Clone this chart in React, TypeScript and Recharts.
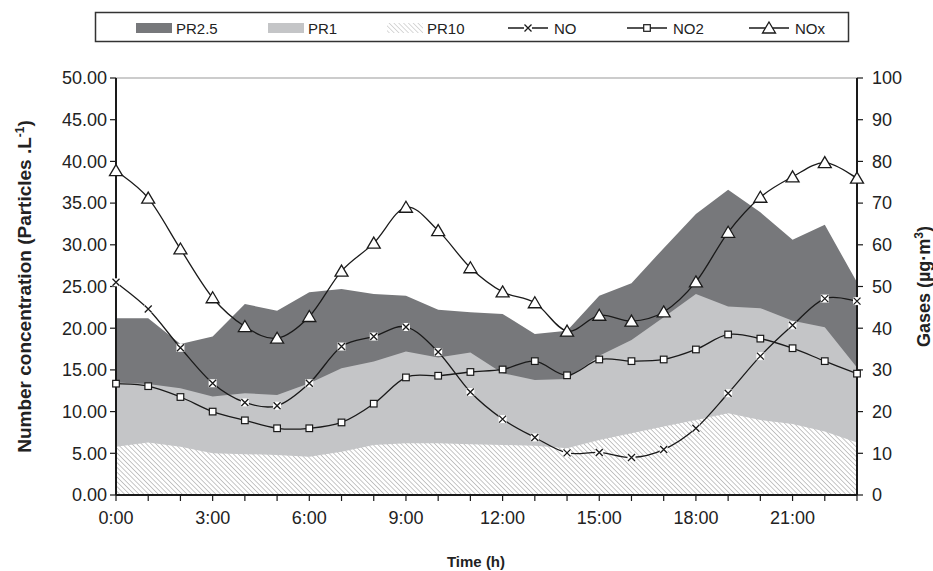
import { ComposedChart, Area, Line, XAxis, YAxis, ReferenceLine } from 'recharts';

// hourly profile: particle number concentrations (left axis) and gases (right axis)
const hours = ['0:00', '1:00', '2:00', '3:00', '4:00', '5:00', '6:00', '7:00', '8:00', '9:00', '10:00', '11:00',
  '12:00', '13:00', '14:00', '15:00', '16:00', '17:00', '18:00', '19:00', '20:00', '21:00', '22:00', '23:00'];

const pr25 = [21.2, 21.2, 18.1, 19.0, 22.9, 22.1, 24.3, 24.7, 24.1, 23.9, 22.2, 21.9, 21.7, 19.3, 19.7, 23.9, 25.4, 29.6, 33.7, 36.6, 33.9, 30.6, 32.4, 25.5];
const pr1 = [13.5, 13.3, 12.8, 11.8, 12.2, 12.0, 13.4, 15.2, 16.0, 17.2, 16.5, 17.1, 14.6, 13.8, 13.9, 16.7, 18.6, 21.3, 24.1, 22.6, 22.4, 20.9, 20.1, 15.3];
const pr10 = [5.8, 6.3, 5.8, 5.0, 4.9, 4.8, 4.6, 5.2, 6.0, 6.2, 6.2, 6.1, 6.0, 5.9, 5.6, 6.6, 7.4, 8.2, 9.0, 9.8, 9.0, 8.5, 7.6, 6.3];

const no = [51.0, 44.6, 35.3, 26.8, 22.2, 21.4, 26.8, 35.6, 38.0, 40.3, 34.3, 24.7, 18.2, 13.8, 10.1, 10.2, 9.0, 10.9, 16.0, 24.4, 33.3, 40.7, 47.1, 46.5];
const no2 = [26.7, 26.1, 23.5, 20.0, 17.9, 16.0, 16.0, 17.4, 21.9, 28.2, 28.6, 29.5, 30.1, 32.1, 28.7, 32.5, 32.1, 32.5, 34.9, 38.5, 37.5, 35.2, 32.1, 29.1];
const nox = [77.8, 71.2, 59.0, 47.3, 40.4, 37.6, 42.8, 53.7, 60.4, 69.0, 63.4, 54.5, 48.7, 46.1, 39.3, 43.1, 41.7, 43.9, 51.1, 63.0, 71.4, 76.3, 79.7, 76.0];

const pmTicks = [0, 5, 10, 15, 20, 25, 30, 35, 40, 45, 50];
const gasTicks = [0, 10, 20, 30, 40, 50, 60, 70, 80, 90, 100];

const rows = hours.map((time, i) => ({
  time, pr25: pr25[i], pr1: pr1[i], pr10: pr10[i], no: no[i], no2: no2[i], nox: nox[i],
}));

const FONT = '"Liberation Sans", Arial, sans-serif';
const INK = '#1a1a1a';
const DARK = '#77787b';
const LIGHT = '#c4c5c7';

// Excel-like smoothed line (uniform Catmull-Rom through the points)
const smooth = (context: any) => {
  let pts: number[][] = [];
  return {
    areaStart() {},
    areaEnd() {},
    lineStart() { pts = []; },
    lineEnd() {
      if (!pts.length) return;
      context.moveTo(pts[0][0], pts[0][1]);
      for (let i = 0; i < pts.length - 1; i++) {
        const p0 = pts[i - 1] || pts[i];
        const p1 = pts[i];
        const p2 = pts[i + 1];
        const p3 = pts[i + 2] || p2;
        context.bezierCurveTo(
          p1[0] + (p2[0] - p0[0]) / 6, p1[1] + (p2[1] - p0[1]) / 6,
          p2[0] - (p3[0] - p1[0]) / 6, p2[1] - (p3[1] - p1[1]) / 6,
          p2[0], p2[1],
        );
      }
    },
    point(x: number, y: number) { pts.push([x, y]); },
  };
};

const CrossDot = ({ cx, cy }: any) => (
  <g>
    <rect x={cx - 4} y={cy - 4} width={8} height={8} fill="#fff" />
    <path d={`M${cx - 3.5},${cy - 3.5}L${cx + 3.5},${cy + 3.5}M${cx + 3.5},${cy - 3.5}L${cx - 3.5},${cy + 3.5}`} stroke={INK} strokeWidth={1.3} />
  </g>
);

const SquareDot = ({ cx, cy }: any) => (
  <rect x={cx - 3.3} y={cy - 3.3} width={6.6} height={6.6} fill="#fff" stroke={INK} strokeWidth={1.2} />
);

const TriangleDot = ({ cx, cy }: any) => (
  <polygon points={`${cx},${cy - 6} ${cx + 6.5},${cy + 5} ${cx - 6.5},${cy + 5}`} fill="#fff" stroke={INK} strokeWidth={1.3} />
);

const HourTick = ({ x, y, payload, index }: any) => {
  if (index % 3 !== 0) return <g />;
  return (
    <text x={x} y={y} dy="0.71em" textAnchor="middle" fontSize={18} fontFamily={FONT} fill="#222">
      {payload.value}
    </text>
  );
};

const TimeTitle = ({ viewBox }: any) => (
  <text x={476} y={viewBox.y + 72} textAnchor="middle" fontSize={15} fontWeight="bold" fontFamily={FONT} fill="#222">
    Time (h)
  </text>
);

const PmTitle = ({ viewBox }: any) => {
  const cx = viewBox.x + 24;
  const cy = viewBox.y + viewBox.height / 2;
  return (
    <text transform={`translate(${cx},${cy}) rotate(-90)`} textAnchor="middle" dy="0.35em" fontSize={19} fontWeight="bold" fontFamily={FONT} fill="#222">
      Number concentration (Particles .L<tspan dy={-7} fontSize={12}>-1</tspan><tspan dy={7}>)</tspan>
    </text>
  );
};

const GasTitle = ({ viewBox }: any) => {
  const cx = viewBox.x + 67;
  const cy = viewBox.y + viewBox.height / 2;
  return (
    <text transform={`translate(${cx},${cy}) rotate(-90)`} textAnchor="middle" dy="0.35em" fontSize={18} fontWeight="bold" fontFamily={FONT} fill="#222">
      Gases (µg·m<tspan dy={-7} fontSize={12}>3</tspan><tspan dy={7}>)</tspan>
    </text>
  );
};

const legendItems = [
  { name: 'PR2.5', kind: 'fill', color: DARK, x: 136 },
  { name: 'PR1', kind: 'fill', color: LIGHT, x: 268 },
  { name: 'PR10', kind: 'hatch', color: '', x: 387 },
  { name: 'NO', kind: 'cross', color: '', x: 508 },
  { name: 'NO2', kind: 'square', color: '', x: 627 },
  { name: 'NOx', kind: 'triangle', color: '', x: 749 },
];

function LegendBox() {
  return (
    <svg width={933} height={50} style={{ position: 'absolute', left: 0, top: 0 }}>
      <defs>
        <pattern id="legendHatch" patternUnits="userSpaceOnUse" width="3.4" height="3.4" patternTransform="rotate(-45)">
          <rect width="3.4" height="3.4" fill="#fff" />
          <line x1="0" y1="0" x2="0" y2="3.4" stroke="#c8c8c8" strokeWidth="1.4" />
        </pattern>
      </defs>
      <rect x={95.5} y={12.5} width={753} height={29} fill="#fff" stroke="#333" strokeWidth={1.5} />
      {legendItems.map((it) => {
        const my = 28;
        let icon;
        if (it.kind === 'fill') icon = <rect x={it.x} y={my - 5} width={36} height={10} fill={it.color} />;
        else if (it.kind === 'hatch') icon = <rect x={it.x} y={my - 5} width={36} height={10} fill="url(#legendHatch)" />;
        else {
          const cx = it.x + 20;
          const marker = it.kind === 'cross'
            ? <CrossDot cx={cx} cy={my} />
            : it.kind === 'square'
              ? <SquareDot cx={cx} cy={my} />
              : <TriangleDot cx={cx} cy={my} />;
          icon = (
            <g>
              <line x1={it.x} x2={it.x + 40} y1={my} y2={my} stroke={INK} strokeWidth={1.3} />
              {marker}
            </g>
          );
        }
        const tx = it.kind === 'fill' || it.kind === 'hatch' ? it.x + 40 : it.x + 46;
        return (
          <g key={it.name}>
            {icon}
            <text x={tx} y={my + 5.5} fontSize={15} fontFamily={FONT} fill="#222">{it.name}</text>
          </g>
        );
      })}
    </svg>
  );
}

export default function App() {
  return (
    <div style={{ position: 'relative', width: 933, height: 571, background: '#fff' }}>
      <style>{'body{margin:0}'}</style>
      <ComposedChart width={933} height={571} data={rows} margin={{ top: 78, right: 0, bottom: 0, left: 0 }}>
        <defs>
          <pattern id="pr10Hatch" patternUnits="userSpaceOnUse" width="3.4" height="3.4" patternTransform="rotate(-45)">
            <rect width="3.4" height="3.4" fill="#fff" />
            <line x1="0" y1="0" x2="0" y2="3.4" stroke="#b9b9b9" strokeWidth="1.6" />
          </pattern>
        </defs>
        <XAxis
          dataKey="time"
          interval={0}
          height={76}
          tickSize={6}
          tickMargin={10}
          tick={<HourTick />}
          axisLine={{ stroke: INK, strokeWidth: 2 }}
          tickLine={{ stroke: INK, strokeWidth: 1.2 }}
          label={<TimeTitle />}
        />
        <YAxis
          yAxisId="pm"
          domain={[0, 50]}
          ticks={pmTicks}
          width={116}
          tickSize={6}
          tickMargin={3}
          tickFormatter={(v: number) => v.toFixed(2)}
          tick={{ fontSize: 18, fontFamily: FONT, fill: '#222' }}
          axisLine={{ stroke: INK, strokeWidth: 2 }}
          tickLine={{ stroke: INK, strokeWidth: 1.2 }}
          label={<PmTitle />}
        />
        <YAxis
          yAxisId="gas"
          orientation="right"
          domain={[0, 100]}
          ticks={gasTicks}
          width={76}
          tickSize={6}
          tickMargin={9}
          tick={{ fontSize: 18, fontFamily: FONT, fill: '#222' }}
          axisLine={{ stroke: INK, strokeWidth: 2 }}
          tickLine={{ stroke: INK, strokeWidth: 1.2 }}
          label={<GasTitle />}
        />
        <ReferenceLine yAxisId="pm" y={50} stroke="#9a9a9a" strokeWidth={1.2} />
        <Area yAxisId="pm" dataKey="pr25" name="PR2.5" type="linear" stroke="none" fill={DARK} fillOpacity={1} isAnimationActive={false} />
        <Area yAxisId="pm" dataKey="pr1" name="PR1" type="linear" stroke="none" fill={LIGHT} fillOpacity={1} isAnimationActive={false} />
        <Area yAxisId="pm" dataKey="pr10" name="PR10" type="linear" stroke="none" fill="url(#pr10Hatch)" fillOpacity={1} isAnimationActive={false} />
        <Line yAxisId="gas" dataKey="no" name="NO" type={smooth as any} stroke={INK} strokeWidth={1.3} dot={<CrossDot />} activeDot={false} isAnimationActive={false} />
        <Line yAxisId="gas" dataKey="no2" name="NO2" type={smooth as any} stroke={INK} strokeWidth={1.3} dot={<SquareDot />} activeDot={false} isAnimationActive={false} />
        <Line yAxisId="gas" dataKey="nox" name="NOx" type={smooth as any} stroke={INK} strokeWidth={1.3} dot={<TriangleDot />} activeDot={false} isAnimationActive={false} />
      </ComposedChart>
      <LegendBox />
    </div>
  );
}
